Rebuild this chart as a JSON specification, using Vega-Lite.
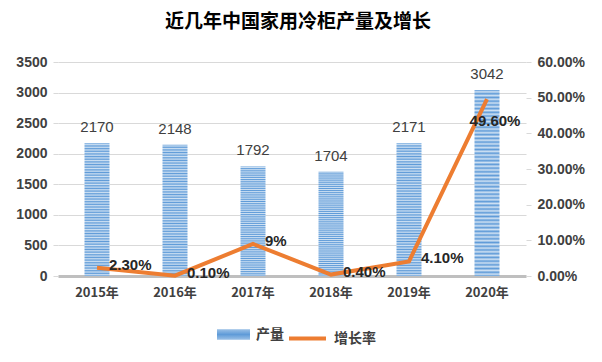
{
  "$schema": "https://vega.github.io/schema/vega-lite/v6.json",
  "width": 468,
  "height": 214,
  "autosize": {"type": "none"},
  "padding": {"left": 58, "top": 62, "right": 76, "bottom": 86},
  "background": "white",
  "title": {
    "text": "近几年中国家用冷柜产量及增长",
    "font": "Noto Sans CJK SC",
    "fontSize": 19,
    "fontWeight": "bold",
    "color": "#000000",
    "offset": 23,
    "dx": 6
  },
  "data": {
    "values": [
      {"year": "2015年", "output": 2170, "rate": 0.023, "rateLabel": "2.30%"},
      {"year": "2016年", "output": 2148, "rate": 0.001, "rateLabel": "0.10%"},
      {"year": "2017年", "output": 1792, "rate": 0.09, "rateLabel": "9%"},
      {"year": "2018年", "output": 1704, "rate": 0.004, "rateLabel": "0.40%"},
      {"year": "2019年", "output": 2171, "rate": 0.041, "rateLabel": "4.10%"},
      {"year": "2020年", "output": 3042, "rate": 0.496, "rateLabel": "49.60%"}
    ]
  },
  "encoding": {
    "x": {
      "field": "year",
      "type": "nominal",
      "sort": null,
      "axis": {
        "title": null,
        "labelAngle": 0,
        "labelFont": "Noto Sans CJK SC",
        "labelFontSize": 13,
        "labelFontWeight": "bold",
        "labelColor": "#404040",
        "domainColor": "#bfbfbf",
        "domainWidth": 3,
        "ticks": false,
        "labelPadding": 10
      }
    }
  },
  "layer": [
    {
      "mark": {"type": "bar", "size": 25, "fill": {"gradient": "linear", "x1": 0, "y1": 0, "x2": 0, "y2": 1, "stops": [
            {"offset": 0.00, "color": "#5F9BD8"}, {"offset": 0.01, "color": "#CFE1F3"},
            {"offset": 0.02, "color": "#5F9BD8"}, {"offset": 0.03, "color": "#CFE1F3"},
            {"offset": 0.04, "color": "#5F9BD8"}, {"offset": 0.05, "color": "#CFE1F3"},
            {"offset": 0.06, "color": "#5F9BD8"}, {"offset": 0.07, "color": "#CFE1F3"},
            {"offset": 0.08, "color": "#5F9BD8"}, {"offset": 0.09, "color": "#CFE1F3"},
            {"offset": 0.10, "color": "#5F9BD8"}, {"offset": 0.11, "color": "#CFE1F3"},
            {"offset": 0.12, "color": "#5F9BD8"}, {"offset": 0.13, "color": "#CFE1F3"},
            {"offset": 0.14, "color": "#5F9BD8"}, {"offset": 0.15, "color": "#CFE1F3"},
            {"offset": 0.16, "color": "#5F9BD8"}, {"offset": 0.17, "color": "#CFE1F3"},
            {"offset": 0.18, "color": "#5F9BD8"}, {"offset": 0.19, "color": "#CFE1F3"},
            {"offset": 0.20, "color": "#5F9BD8"}, {"offset": 0.21, "color": "#CFE1F3"},
            {"offset": 0.22, "color": "#5F9BD8"}, {"offset": 0.23, "color": "#CFE1F3"},
            {"offset": 0.24, "color": "#5F9BD8"}, {"offset": 0.25, "color": "#CFE1F3"},
            {"offset": 0.26, "color": "#5F9BD8"}, {"offset": 0.27, "color": "#CFE1F3"},
            {"offset": 0.28, "color": "#5F9BD8"}, {"offset": 0.29, "color": "#CFE1F3"},
            {"offset": 0.30, "color": "#5F9BD8"}, {"offset": 0.31, "color": "#CFE1F3"},
            {"offset": 0.32, "color": "#5F9BD8"}, {"offset": 0.33, "color": "#CFE1F3"},
            {"offset": 0.34, "color": "#5F9BD8"}, {"offset": 0.35, "color": "#CFE1F3"},
            {"offset": 0.36, "color": "#5F9BD8"}, {"offset": 0.37, "color": "#CFE1F3"},
            {"offset": 0.38, "color": "#5F9BD8"}, {"offset": 0.39, "color": "#CFE1F3"},
            {"offset": 0.40, "color": "#5F9BD8"}, {"offset": 0.41, "color": "#CFE1F3"},
            {"offset": 0.42, "color": "#5F9BD8"}, {"offset": 0.43, "color": "#CFE1F3"},
            {"offset": 0.44, "color": "#5F9BD8"}, {"offset": 0.45, "color": "#CFE1F3"},
            {"offset": 0.46, "color": "#5F9BD8"}, {"offset": 0.47, "color": "#CFE1F3"},
            {"offset": 0.48, "color": "#5F9BD8"}, {"offset": 0.49, "color": "#CFE1F3"},
            {"offset": 0.50, "color": "#5F9BD8"}, {"offset": 0.51, "color": "#CFE1F3"},
            {"offset": 0.52, "color": "#5F9BD8"}, {"offset": 0.53, "color": "#CFE1F3"},
            {"offset": 0.54, "color": "#5F9BD8"}, {"offset": 0.55, "color": "#CFE1F3"},
            {"offset": 0.56, "color": "#5F9BD8"}, {"offset": 0.57, "color": "#CFE1F3"},
            {"offset": 0.58, "color": "#5F9BD8"}, {"offset": 0.59, "color": "#CFE1F3"},
            {"offset": 0.60, "color": "#5F9BD8"}, {"offset": 0.61, "color": "#CFE1F3"},
            {"offset": 0.62, "color": "#5F9BD8"}, {"offset": 0.63, "color": "#CFE1F3"},
            {"offset": 0.64, "color": "#5F9BD8"}, {"offset": 0.65, "color": "#CFE1F3"},
            {"offset": 0.66, "color": "#5F9BD8"}, {"offset": 0.67, "color": "#CFE1F3"},
            {"offset": 0.68, "color": "#5F9BD8"}, {"offset": 0.69, "color": "#CFE1F3"},
            {"offset": 0.70, "color": "#5F9BD8"}, {"offset": 0.71, "color": "#CFE1F3"},
            {"offset": 0.72, "color": "#5F9BD8"}, {"offset": 0.73, "color": "#CFE1F3"},
            {"offset": 0.74, "color": "#5F9BD8"}, {"offset": 0.75, "color": "#CFE1F3"},
            {"offset": 0.76, "color": "#5F9BD8"}, {"offset": 0.77, "color": "#CFE1F3"},
            {"offset": 0.78, "color": "#5F9BD8"}, {"offset": 0.79, "color": "#CFE1F3"},
            {"offset": 0.80, "color": "#5F9BD8"}, {"offset": 0.81, "color": "#CFE1F3"},
            {"offset": 0.82, "color": "#5F9BD8"}, {"offset": 0.83, "color": "#CFE1F3"},
            {"offset": 0.84, "color": "#5F9BD8"}, {"offset": 0.85, "color": "#CFE1F3"},
            {"offset": 0.86, "color": "#5F9BD8"}, {"offset": 0.87, "color": "#CFE1F3"},
            {"offset": 0.88, "color": "#5F9BD8"}, {"offset": 0.89, "color": "#CFE1F3"},
            {"offset": 0.90, "color": "#5F9BD8"}, {"offset": 0.91, "color": "#CFE1F3"},
            {"offset": 0.92, "color": "#5F9BD8"}, {"offset": 0.93, "color": "#CFE1F3"},
            {"offset": 0.94, "color": "#5F9BD8"}, {"offset": 0.95, "color": "#CFE1F3"},
            {"offset": 0.96, "color": "#5F9BD8"}, {"offset": 0.97, "color": "#CFE1F3"},
            {"offset": 0.98, "color": "#5F9BD8"}, {"offset": 0.99, "color": "#CFE1F3"},
            {"offset": 1.00, "color": "#5F9BD8"}
          ]}},
      "encoding": {
        "y": {
          "field": "output",
          "type": "quantitative",
          "scale": {"domain": [0, 3500]},
          "axis": {
            "title": null,
            "format": "d",
            "values": [0, 500, 1000, 1500, 2000, 2500, 3000, 3500],
            "labelFont": "Liberation Sans",
            "labelFontSize": 14,
            "labelFontWeight": "bold",
            "labelColor": "#404040",
            "domain": false,
            "tickColor": "#d9d9d9",
            "tickSize": 5,
            "gridColor": "#d9d9d9",
            "labelPadding": 6
          }
        },
        "opacity": {
          "datum": "产量",
          "type": "nominal",
          "scale": {"range": [1]},
          "legend": {
            "orient": "none",
            "legendX": 159,
            "legendY": 256,
            "title": null,
            "symbolType": "M-1,-0.3H1V0.3H-1Z",
            "symbolSize": 1089,
            "symbolStrokeWidth": 0,
            "symbolFillColor": "#8DB6E3",
            "labelFont": "Noto Sans CJK SC",
            "labelFontSize": 14,
            "labelFontWeight": "bold",
            "labelColor": "#404040",
            "labelOffset": 6,
            "encode": {"symbols": {"update": {"fill": {"value": "#8DB6E3"}, "opacity": {"value": 1}}}}
          }
        }
      }
    },
    {
      "mark": {"type": "text", "baseline": "bottom", "dy": -8, "font": "Liberation Sans", "fontSize": 15, "color": "#404040"},
      "encoding": {
        "y": {"field": "output", "type": "quantitative", "scale": {"domain": [0, 3500]}, "axis": null},
        "text": {"field": "output"}
      }
    },
    {
      "mark": {"type": "line", "color": "#ED7D31", "strokeWidth": 4},
      "encoding": {
        "y": {
          "field": "rate",
          "type": "quantitative",
          "scale": {"domain": [0, 0.6]},
          "axis": {
            "orient": "right",
            "title": null,
            "format": ".2%",
            "values": [0, 0.1, 0.2, 0.3, 0.4, 0.5, 0.6],
            "labelFont": "Liberation Sans",
            "labelFontSize": 14,
            "labelFontWeight": "bold",
            "labelColor": "#404040",
            "domain": false,
            "grid": false,
            "tickColor": "#d9d9d9",
            "tickSize": 5,
            "labelPadding": 6
          }
        },
        "stroke": {
          "datum": "增长率",
          "type": "nominal",
          "scale": {"range": ["#ED7D31"]},
          "legend": {
            "orient": "none",
            "legendX": 229,
            "legendY": 256,
            "title": null,
            "symbolType": "stroke",
            "symbolStrokeWidth": 4,
            "symbolSize": 1369,
            "labelFont": "Noto Sans CJK SC",
            "labelFontSize": 14,
            "labelFontWeight": "bold",
            "labelColor": "#404040",
            "labelOffset": 6
          }
        }
      }
    },
    {
      "transform": [{"filter": "datum.year != '2020年'"}],
      "mark": {"type": "text", "align": "left", "dx": 12, "dy": -3, "font": "Liberation Sans", "fontSize": 15, "fontWeight": "bold", "color": "#262626"},
      "encoding": {
        "y": {"field": "rate", "type": "quantitative", "scale": {"domain": [0, 0.6]}, "axis": null},
        "text": {"field": "rateLabel"}
      }
    },
    {
      "transform": [{"filter": "datum.year == '2020年'"}],
      "mark": {"type": "text", "align": "center", "dx": 8, "dy": 22, "font": "Liberation Sans", "fontSize": 15, "fontWeight": "bold", "color": "#262626"},
      "encoding": {
        "y": {"field": "rate", "type": "quantitative", "scale": {"domain": [0, 0.6]}, "axis": null},
        "text": {"field": "rateLabel"}
      }
    }
  ],
  "resolve": {"scale": {"y": "independent"}},
  "config": {"view": {"stroke": null}}
}
